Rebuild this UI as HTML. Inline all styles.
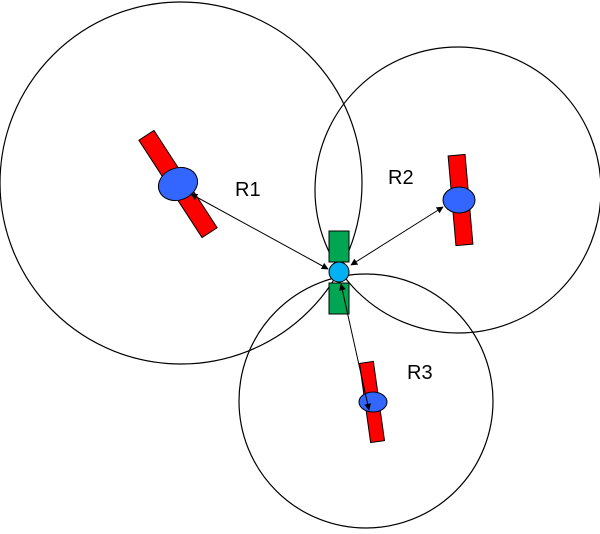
<!DOCTYPE html>
<html><head><style>body{margin:0;background:#fff}</style></head><body>
<svg width="600" height="529" viewBox="0 0 600 529" xmlns="http://www.w3.org/2000/svg">
<defs><marker id="a" viewBox="0 0 10 10" refX="9" refY="5" markerWidth="7" markerHeight="7" orient="auto-start-reverse"><path d="M0,0L10,5L0,10z" fill="#000"/></marker></defs>
<g fill="none" stroke="#000" stroke-width="1.2">
<circle cx="181" cy="183" r="181"/>
<circle cx="458" cy="190" r="143"/>
<circle cx="366" cy="401" r="127"/>
</g>
<g stroke="#000" stroke-width="1">
<g transform="rotate(-33 178 184)"><rect x="169" y="126" width="18" height="116" fill="#f00"/></g>
<ellipse cx="178" cy="184" rx="20" ry="16" transform="rotate(-20 178 184)" fill="#3366ff"/>
<g transform="rotate(-5 461 200)"><rect x="452" y="155" width="17" height="90" fill="#f00"/></g>
<ellipse cx="459" cy="200" rx="16" ry="13" fill="#3366ff"/>
<g transform="rotate(-8 372 402)"><rect x="365" y="362" width="14" height="80" fill="#f00"/></g>
<ellipse cx="373" cy="402" rx="14" ry="10" fill="#3366ff"/>
<rect x="329" y="231" width="20" height="31" fill="#00a651"/>
<rect x="329" y="283" width="20" height="31" fill="#00a651"/>
<circle cx="339" cy="272" r="10" fill="#00b0f0"/>
</g>
<g stroke="#000" stroke-width="1" marker-start="url(#a)" marker-end="url(#a)">
<line x1="191" y1="194" x2="328" y2="269"/>
<line x1="443" y1="207" x2="351" y2="265"/>
<line x1="341" y1="284" x2="369" y2="410"/>
</g>
<g font-family="Liberation Sans, sans-serif" font-size="20" fill="#000">
<text x="235" y="196">R1</text>
<text x="388" y="184">R2</text>
<text x="407" y="379">R3</text>
</g>
</svg>
</body></html>
